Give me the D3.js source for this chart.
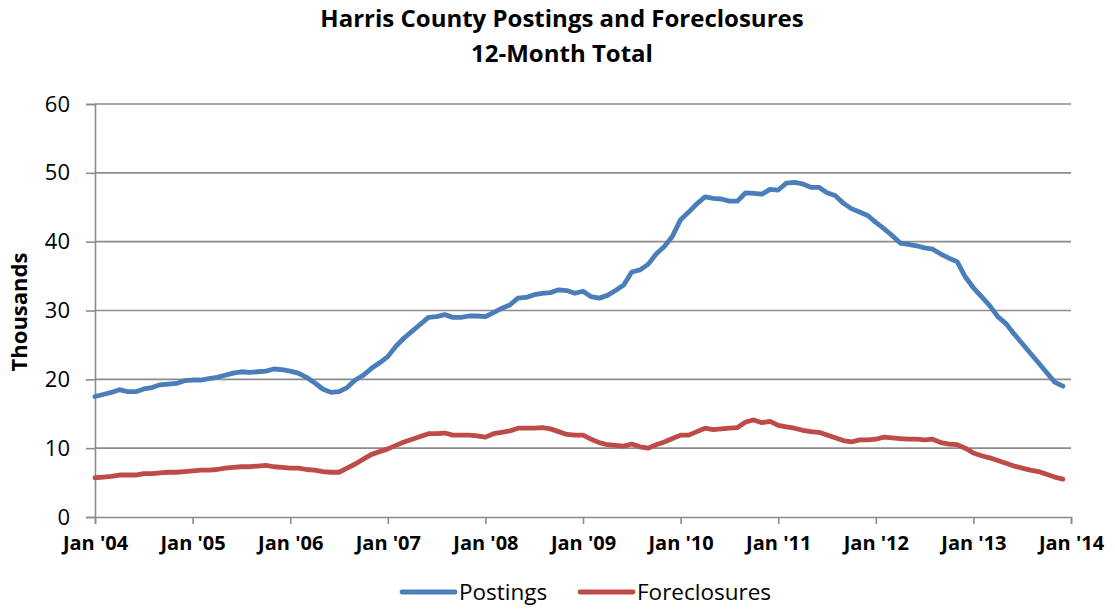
<!DOCTYPE html>
<html>
<head>
<meta charset="utf-8">
<script src="https://cdn.jsdelivr.net/npm/d3@7"></script>
<style>
  body { margin: 0; background: #fff; }
  text { font-family: "Open Sans", "Liberation Sans", sans-serif; fill: #000; }
</style>
</head>
<body>
<div id="chart"></div>
<script>
// monthly values, Jan '04 .. Dec '13 (thousands)
const postings = [
    17.5, 17.8, 18.1, 18.5, 18.2, 18.2, 18.6, 18.8, 19.2, 19.3, 19.4, 19.8,
    19.9, 19.9, 20.1, 20.3, 20.6, 20.9, 21.1, 21.0, 21.1, 21.2, 21.5, 21.4,
    21.2, 20.9, 20.3, 19.5, 18.6, 18.1, 18.2, 18.8, 19.9, 20.6, 21.6, 22.4,
    23.3, 24.8, 26.0, 27.0, 28.0, 29.0, 29.1, 29.4, 29.0, 29.0, 29.2, 29.2,
    29.1, 29.7, 30.3, 30.8, 31.8, 31.9, 32.3, 32.5, 32.6, 33.0, 32.9, 32.5,
    32.8, 32.0, 31.8, 32.2, 32.9, 33.7, 35.6, 35.9, 36.7, 38.2, 39.3, 40.8,
    43.2, 44.3, 45.5, 46.5, 46.3, 46.2, 45.9, 45.9, 47.1, 47.0, 46.9, 47.6,
    47.5, 48.5, 48.6, 48.4, 47.9, 47.9, 47.1, 46.7, 45.6, 44.8, 44.3, 43.8,
    42.8, 41.9, 40.9, 39.8, 39.6, 39.4, 39.1, 38.9, 38.2, 37.6, 37.1, 34.9,
    33.3, 32.0, 30.7, 29.1, 28.1, 26.6, 25.2, 23.8, 22.4, 21.0, 19.6, 19.0
];
const foreclosures = [
    5.7, 5.8, 5.9, 6.1, 6.1, 6.1, 6.3, 6.3, 6.4, 6.5, 6.5, 6.6,
    6.7, 6.8, 6.8, 6.9, 7.1, 7.2, 7.3, 7.3, 7.4, 7.5, 7.3, 7.2,
    7.1, 7.1, 6.9, 6.8, 6.6, 6.5, 6.5, 7.1, 7.7, 8.4, 9.1, 9.5,
    9.9, 10.4, 10.9, 11.3, 11.7, 12.1, 12.1, 12.2, 11.9, 11.9, 11.9, 11.8,
    11.6, 12.1, 12.3, 12.5, 12.9, 12.9, 12.9, 13.0, 12.8, 12.4, 12.0, 11.9,
    11.9, 11.3, 10.8, 10.5, 10.4, 10.3, 10.6, 10.2, 10.0, 10.5, 10.9, 11.4,
    11.9, 11.9, 12.4, 12.9, 12.7, 12.8, 12.9, 13.0, 13.8, 14.1, 13.7, 13.9,
    13.3, 13.1, 12.9, 12.6, 12.4, 12.3, 11.9, 11.5, 11.1, 10.9, 11.2, 11.2,
    11.3, 11.6, 11.5, 11.4, 11.3, 11.3, 11.2, 11.3, 10.8, 10.6, 10.5, 10.0,
    9.3, 8.9, 8.6, 8.2, 7.8, 7.4, 7.1, 6.8, 6.6, 6.2, 5.8, 5.5
];
const xTickLabels = ["Jan '04", "Jan '05", "Jan '06", "Jan '07", "Jan '08", "Jan '09",
    "Jan '10", "Jan '11", "Jan '12", "Jan '13", "Jan '14"];
const yTicks = [0, 10, 20, 30, 40, 50, 60];
const seriesNames = ["Postings", "Foreclosures"];
const seriesColors = ["#4a7ebb", "#be4b48"];

const width = 1115, height = 609;
const margin = {left: 95, right: 44, top: 104, bottom: 92};

let svg = d3.select("#chart").append("svg")
    .attr("width", width)
    .attr("height", height);

// scales: month index -> x, thousands -> y
let x = d3.scaleLinear()
    .domain([0, 120])
    .range([margin.left, width - margin.right]);
let y = d3.scaleLinear()
    .domain([0, 60])
    .range([height - margin.bottom, margin.top]);

// title
svg.append("text")
    .attr("x", 562).attr("y", 27)
    .attr("text-anchor", "middle")
    .style("font-weight", "bold").style("font-size", "24px")
    .text("Harris County Postings and Foreclosures");
svg.append("text")
    .attr("x", 562).attr("y", 62)
    .attr("text-anchor", "middle")
    .style("font-weight", "bold").style("font-size", "24px")
    .text("12-Month Total");

// gridlines
svg.append("g")
    .selectAll("line")
    .data(yTicks.filter(d => d > 0))
    .enter()
    .append("line")
    .attr("x1", x(0)).attr("x2", x(120))
    .attr("y1", d => y(d)).attr("y2", d => y(d))
    .attr("stroke", "#8c8c8c")
    .attr("stroke-width", 1.6);

// y axis
let yAxis = svg.append("g")
    .attr("transform", "translate(" + x(0) + ",0)")
    .call(d3.axisLeft(y).tickValues(yTicks).tickSize(9).tickPadding(16));
yAxis.select(".domain").attr("stroke", "#8c8c8c").attr("stroke-width", 1.6);
yAxis.selectAll(".tick line").attr("stroke", "#8c8c8c").attr("stroke-width", 1.6);
yAxis.selectAll("text")
    .style("font-size", "22px")
    .style("font-family", "'Open Sans', sans-serif");

// x axis
let xAxis = svg.append("g")
    .attr("transform", "translate(0," + y(0) + ")")
    .call(d3.axisBottom(x)
        .tickValues(d3.range(0, 121, 12))
        .tickFormat((d, i) => xTickLabels[i])
        .tickSize(7).tickPadding(12));
xAxis.select(".domain").attr("stroke", "#8c8c8c").attr("stroke-width", 1.6);
xAxis.selectAll(".tick line").attr("stroke", "#8c8c8c").attr("stroke-width", 1.6);
xAxis.selectAll("text")
    .style("font-size", "20px")
    .style("font-weight", "bold")
    .style("font-family", "'Open Sans', sans-serif");

// y axis title
svg.append("text")
    .attr("transform", "translate(27,312) rotate(-90)")
    .attr("text-anchor", "middle")
    .style("font-weight", "bold").style("font-size", "22px")
    .text("Thousands");

// lines
let line = d3.line()
    .x((d, i) => x(i))
    .y(d => y(d));

[postings, foreclosures].forEach(function(series, k) {
    svg.append("path")
        .datum(series)
        .attr("fill", "none")
        .attr("stroke", seriesColors[k])
        .attr("stroke-width", 4.8)
        .attr("stroke-linejoin", "round")
        .attr("stroke-linecap", "round")
        .attr("d", line);
});

// legend
let legendX = [402, 580];
let legend = svg.append("g");
seriesNames.forEach(function(name, k) {
    legend.append("line")
        .attr("x1", legendX[k]).attr("x2", legendX[k] + 53)
        .attr("y1", 592).attr("y2", 592)
        .attr("stroke", seriesColors[k])
        .attr("stroke-width", 4.8)
        .attr("stroke-linecap", "round");
    legend.append("text")
        .attr("x", legendX[k] + 57).attr("y", 600)
        .style("font-size", "22.5px")
        .text(name);
});
</script>
</body>
</html>
